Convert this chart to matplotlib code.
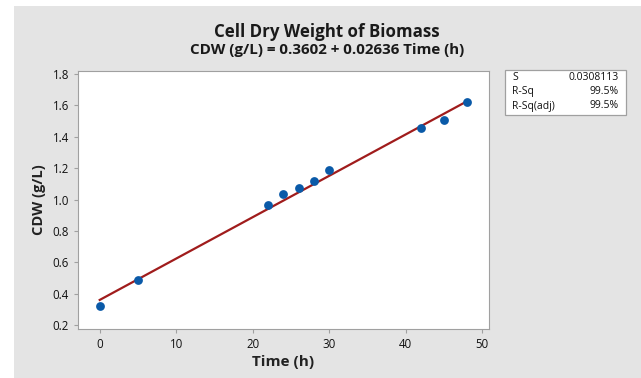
import matplotlib.pyplot as plt
from matplotlib.patches import Rectangle

plt.rcParams['font.family'] = ['Open Sans', 'DejaVu Sans']

time_h = [0, 5, 22, 24, 26, 28, 30, 42, 45, 48]
cdw = [0.323, 0.485, 0.964, 1.034, 1.071, 1.115, 1.185, 1.453, 1.504, 1.622]

intercept = 0.3602
slope = 0.02636

stat_names = ['S', 'R-Sq', 'R-Sq(adj)']
stat_values = ['0.0308113', '99.5%', '99.5%']

x_ticks = [0, 10, 20, 30, 40, 50]
y_ticks = [0.2, 0.4, 0.6, 0.8, 1.0, 1.2, 1.4, 1.6, 1.8]

W, H = 641, 378
fig = plt.figure(figsize=(W / 100, H / 100), dpi=100)
fig.patch.set_facecolor('white')
fig.patches.append(Rectangle((14 / W, 0), 1 - 14 / W, 1 - 6 / H, transform=fig.transFigure,
                             facecolor='#e4e4e4', edgecolor='none', zorder=-5))

ax = fig.add_axes([78 / W, 1 - 329 / H, (489 - 78) / W, (329 - 71) / H])
ax.set_facecolor('white')

fit_x = [time_h[0], time_h[-1]]
fit_y = [intercept + slope * t for t in fit_x]
ax.plot(fit_x, fit_y, color='#a01c1c', lw=1.6, zorder=2)
ax.scatter(time_h, cdw, s=40, color='#0a5aa8', zorder=3, linewidths=0)

ax.set_xlim(-2.84, 50.9)
ax.set_ylim(0.175, 1.819)
ax.set_xticks(x_ticks)
ax.set_yticks(y_ticks)
ax.set_yticklabels(['%.1f' % v for v in y_ticks])
for s in ax.spines.values():
    s.set_color('#a0a0a0')
ax.tick_params(colors='#a0a0a0', labelcolor='#111111', labelsize=8.3, length=3, width=0.8)

ax.set_xlabel('Time (h)', fontsize=11, fontweight='bold', color='#222222', labelpad=3)
ax.set_ylabel('CDW (g/L)', fontsize=10.5, fontweight='bold', color='#222222', labelpad=5)

fig.text(327 / W, 1 - 32 / H, 'Cell Dry Weight of Biomass', ha='center', va='center',
         fontsize=12.2, fontweight='bold', color='#1a1a1a')
fig.text(327 / W, 1 - 50 / H, 'CDW (g/L) = 0.3602 + 0.02636 Time (h)', ha='center', va='center',
         fontsize=10.9, fontweight='bold', color='#1a1a1a')

# summary box
fig.patches.append(Rectangle((505 / W, 1 - 115 / H), 121 / W, 45 / H, transform=fig.transFigure,
                             facecolor='white', edgecolor='#a0a0a0', lw=0.9, zorder=1))
for i, (name, val) in enumerate(zip(stat_names, stat_values)):
    y = 1 - (77 + i * 14.5) / H
    fig.text(512 / W, y, name, ha='left', va='center', fontsize=7.5, color='#111111')
    fig.text(619 / W, y, val, ha='right', va='center', fontsize=7.5, color='#111111')

fig.savefig('out.png', dpi=100)
